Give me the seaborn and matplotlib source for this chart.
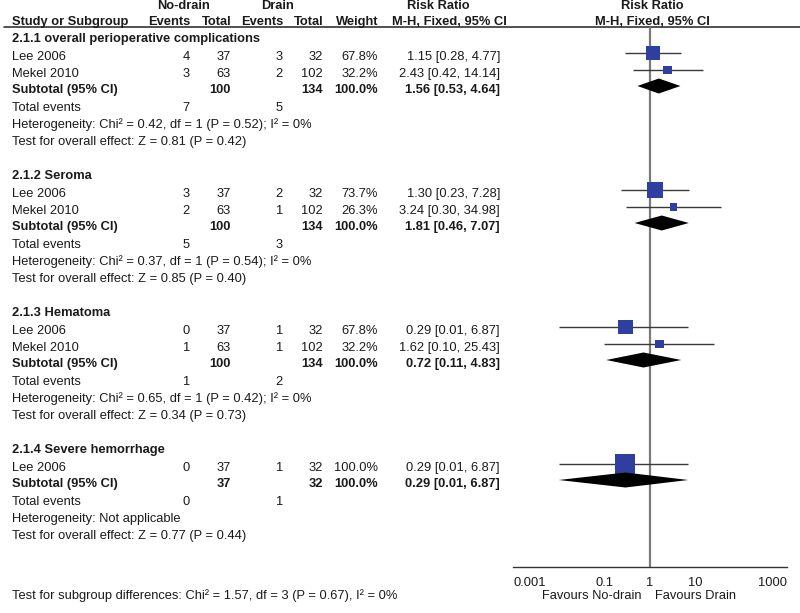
"""
Forest plot: drain vs no-drain, risk ratios by subgroup.
"""

import numpy as np
import pandas as pd
import matplotlib
matplotlib.use("Agg")
import matplotlib.pyplot as plt
import seaborn as sns

group_titles = ["2.1.1 overall perioperative complications", "2.1.2 Seroma",
                "2.1.3 Hematoma", "2.1.4 Severe hemorrhage"]
study_names = [["Lee 2006", "Mekel 2010"], ["Lee 2006", "Mekel 2010"],
               ["Lee 2006", "Mekel 2010"], ["Lee 2006"]]
ev_nodrain = [[4, 3], [3, 2], [0, 1], [0]]
tot_nodrain = [[37, 63], [37, 63], [37, 63], [37]]
ev_drain = [[3, 2], [2, 1], [1, 1], [1]]
tot_drain = [[32, 102], [32, 102], [32, 102], [32]]
weights = [[67.8, 32.2], [73.7, 26.3], [67.8, 32.2], [100.0]]
rr = [[1.15, 2.43], [1.30, 3.24], [0.29, 1.62], [0.29]]
ci_low = [[0.28, 0.42], [0.23, 0.30], [0.01, 0.10], [0.01]]
ci_high = [[4.77, 14.14], [7.28, 34.98], [6.87, 25.43], [6.87]]

sub_rr = [1.56, 1.81, 0.72, 0.29]
sub_low = [0.53, 0.46, 0.11, 0.01]
sub_high = [4.64, 7.07, 4.83, 6.87]
sub_nodrain = [100, 100, 100, 37]
sub_drain = [134, 134, 134, 32]
total_ev_nodrain = [7, 5, 1, 0]
total_ev_drain = [5, 3, 2, 1]

heterogeneity = ["Heterogeneity: Chi² = 0.42, df = 1 (P = 0.52); I² = 0%",
                 "Heterogeneity: Chi² = 0.37, df = 1 (P = 0.54); I² = 0%",
                 "Heterogeneity: Chi² = 0.65, df = 1 (P = 0.42); I² = 0%",
                 "Heterogeneity: Not applicable"]
overall_effect = ["Test for overall effect: Z = 0.81 (P = 0.42)",
                  "Test for overall effect: Z = 0.85 (P = 0.40)",
                  "Test for overall effect: Z = 0.34 (P = 0.73)",
                  "Test for overall effect: Z = 0.77 (P = 0.44)"]
subgroup_diff = "Test for subgroup differences: Chi² = 1.57, df = 3 (P = 0.67), I² = 0%"

axis_ticks = [0.001, 0.1, 1, 10, 1000]
axis_labels = ["0.001", "0.1", "1", "10", "1000"]

sns.set_style("white")
plt.rcParams['font.family'] = ['Liberation Sans', 'DejaVu Sans']
FS = 9.3
TXT = "#1a1a1a"
BLUE = "#2f3f9f"

fig = plt.figure(figsize=(8, 6.13), dpi=100)
tax = fig.add_axes([0, 0, 1, 1])
tax.set_xlim(0, 800)
tax.set_ylim(613, 0)
tax.axis("off")

# forest panel shares the pixel-row y units of the text panel
AX_TOP, AX_BOT, AX_L, AX_R = 27, 567, 513, 787
fax = fig.add_axes([AX_L / 800, (613 - AX_BOT) / 613, (AX_R - AX_L) / 800, (AX_BOT - AX_TOP) / 613])
fax.set_xscale("log")
fax.set_xlim(0.001, 1000)
fax.set_ylim(AX_BOT, AX_TOP)
fax.patch.set_alpha(0)


def put(x, y, s, ha="right", bold=False):
    tax.text(x, y, s, ha=ha, va="center", fontsize=FS, color=TXT,
             fontweight="bold" if bold else "normal")


# column x (right edges)
cx = dict(name=12, evn=190, totn=231, evd=283, totd=323, w=378, ci=500)

# header
put(184, 6, "No-drain", "center", True)
put(277, 6, "Drain", "center", True)
put(438, 6, "Risk Ratio", "center", True)
put(652, 6, "Risk Ratio", "center", True)
hy = 22
put(cx["name"], hy, "Study or Subgroup", "left", True)
for key, lab in [("evn", "Events"), ("totn", "Total"), ("evd", "Events"), ("totd", "Total"), ("w", "Weight")]:
    put(cx[key], hy, lab, "right", True)
put(449, hy, "M-H, Fixed, 95% CI", "center", True)
put(652, hy, "M-H, Fixed, 95% CI", "center", True)
tax.plot([4, 800], [AX_TOP, AX_TOP], color="#333333", lw=1.2)

MK_OFF = 4  # marks sit slightly above the text baseline centre
y = 39
study_rows = []
sub_rows = []
for g, title in enumerate(group_titles):
    put(cx["name"], y, title, "left", True)
    y += 1
    for i, name in enumerate(study_names[g]):
        y += 17
        put(cx["name"], y, name, "left")
        put(cx["evn"], y, str(ev_nodrain[g][i]))
        put(cx["totn"], y, str(tot_nodrain[g][i]))
        put(cx["evd"], y, str(ev_drain[g][i]))
        put(cx["totd"], y, str(tot_drain[g][i]))
        put(cx["w"], y, f"{weights[g][i]:.1f}%")
        put(cx["ci"], y, f"{rr[g][i]:.2f} [{ci_low[g][i]:.2f}, {ci_high[g][i]:.2f}]")
        study_rows.append(dict(rr=rr[g][i], lo=ci_low[g][i], hi=ci_high[g][i],
                               w=weights[g][i], y=y - MK_OFF))
    y += 16
    put(cx["name"], y, "Subtotal (95% CI)", "left", True)
    put(cx["totn"], y, str(sub_nodrain[g]), "right", True)
    put(cx["totd"], y, str(sub_drain[g]), "right", True)
    put(cx["w"], y, "100.0%", "right", True)
    put(cx["ci"], y, f"{sub_rr[g]:.2f} [{sub_low[g]:.2f}, {sub_high[g]:.2f}]", "right", True)
    sub_rows.append(dict(rr=sub_rr[g], lo=sub_low[g], hi=sub_high[g], y=y - MK_OFF))
    y += 18
    put(cx["name"], y, "Total events", "left")
    put(cx["evn"], y, str(total_ev_nodrain[g]))
    put(cx["evd"], y, str(total_ev_drain[g]))
    y += 17
    put(cx["name"], y, heterogeneity[g], "left")
    y += 17
    put(cx["name"], y, overall_effect[g], "left")
    y += 34

studies = pd.DataFrame(study_rows)
subs = pd.DataFrame(sub_rows)

# reference line at RR = 1
fax.axvline(1, color="#7a7a7a", lw=1.6, zorder=1)

# CI whiskers
fax.hlines(studies["y"], studies["lo"], studies["hi"], color="#3a3a3a", lw=1, zorder=2)

# weight squares (side grows with weight)
side_pt = (3 + 0.17 * studies["w"]) * 0.72
sns.scatterplot(data=studies, x="rr", y="y", marker="s", s=side_pt ** 2, color=BLUE,
                linewidth=0, legend=False, ax=fax, zorder=3)

# subtotal diamonds
half_h = 7.5
for _, r in subs.iterrows():
    fax.fill([r["lo"], r["rr"], r["hi"], r["rr"]],
             [r["y"], r["y"] - half_h, r["y"], r["y"] + half_h],
             color="black", lw=0, zorder=4)

for s in ["top", "left", "right"]:
    fax.spines[s].set_visible(False)
fax.spines["bottom"].set_color("#333333")
fax.spines["bottom"].set_linewidth(1)
fax.set_yticks([])
fax.set_xticks(axis_ticks)
fax.set_xticklabels(axis_labels)
fax.minorticks_off()
fax.tick_params(axis="x", direction="inout", length=8, width=1, color="#333333",
                labelsize=FS, labelcolor=TXT, pad=3)
tl = fax.get_xticklabels()
tl[0].set_ha("left")
tl[-1].set_ha("right")
fax.set_xlabel("")
fax.set_ylabel("")

put(642, 596, "Favours No-drain", "right")
put(655, 596, "Favours Drain", "left")
put(cx["name"], 596, subgroup_diff, "left")

fig.savefig("out.png", dpi=100)
